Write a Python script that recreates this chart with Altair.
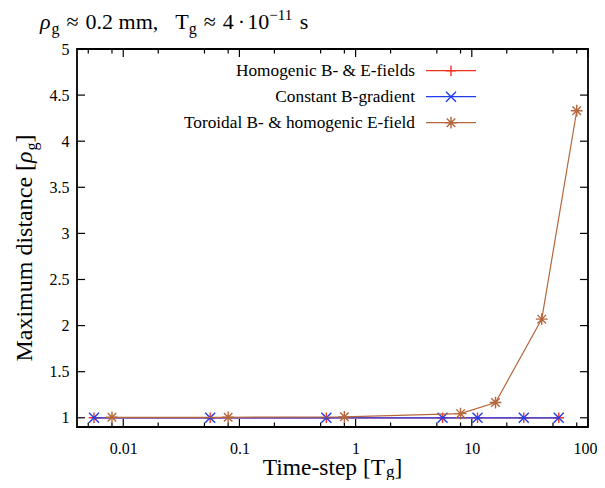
import altair as alt
import pandas as pd

# ---------------- data ----------------
series_names = ["Homogenic B- & E-fields", "Constant B-gradient",
                "Toroidal B- & homogenic E-field"]
series_colors = ["#f5331f", "#1f3cf0", "#b5673c"]

x_homog = [0.0056, 0.056, 0.56, 5.6, 11.2, 28, 56]
y_homog = [1.0, 1.0, 1.0, 1.0, 1.0, 1.0, 1.0]
x_grad = [0.0056, 0.056, 0.56, 5.6, 11.2, 28, 56]
y_grad = [1.0, 1.0, 1.0, 1.0, 1.0, 1.0, 1.0]
x_tor = [0.008, 0.08, 0.8, 8, 16, 40, 80]
y_tor = [1.005, 1.005, 1.01, 1.045, 1.165, 2.07, 4.33]

x_major = [0.01, 0.1, 1, 10, 100]
x_minor = [0.005, 0.008, 0.02, 0.05, 0.08, 0.2, 0.5, 0.8,
           2, 5, 8, 20, 50, 80]
y_major = [1, 1.5, 2, 2.5, 3, 3.5, 4, 4.5, 5]

# ---------------- layout ----------------
W, H = 511, 378
SERIF = "Liberation Serif"
xs = alt.Scale(type="log", domain=[0.004, 100], nice=False)
ys = alt.Scale(domain=[0.9, 5], nice=False, zero=False)

AX = alt.Axis(values=x_major, format="~g", ticks=False, domain=False, grid=False,
              labelFont=SERIF, labelFontSize=16, labelPadding=13, labelColor="black",
              labelOverlap=False, labelFlush=False, title=None,
              labelAlign={"condition": {"test": "datum.value >= 100", "value": "right"},
                          "value": "center"},
              labelOffset={"condition": {"test": "datum.value >= 100", "value": 9},
                           "value": 0})
AY = alt.Axis(values=y_major, format="~g", ticks=False, domain=False, grid=False,
              labelFont=SERIF, labelFontSize=16, labelPadding=8, labelColor="black",
              labelOverlap=False, labelFlush=False, title=None)


def X(field="x"):
    return alt.X(f"{field}:Q", scale=xs, axis=AX)


def Y(field="y"):
    return alt.Y(f"{field}:Q", scale=ys, axis=AY)


one = pd.DataFrame({"k": [0]})

PLUS = "M-1,0L1,0M0,-1L0,1"
CROSS = "M-1,-1L1,1M-1,1L1,-1"
STAR = "M-1,0L1,0M0,-1L0,1M-0.72,-0.72L0.72,0.72M-0.72,0.72L0.72,-0.72"
shapes = [PLUS, CROSS, STAR]
sizes = [110, 100, 140]

WID = {' ': 0.25, '≈': 0.549, '.': 0.25, ',': 0.25, 'm': 0.778, 'T': 0.611,
       'g': 0.5, '·': 0.25, '−': 0.564, 's': 0.389, 'ρ': 0.52, 'i': 0.278,
       'e': 0.444, '-': 0.333, 't': 0.278, 'p': 0.5, '[': 0.333, ']': 0.333,
       'M': 0.889, 'a': 0.444, 'x': 0.5, 'u': 0.5, 'd': 0.5, 'n': 0.5,
       'c': 0.444}


def twidth(txt, size):
    return sum(WID.get(ch, 0.5) for ch in txt) * size


def run_width(segs):
    tot = 0
    for s in segs:
        if isinstance(s, (int, float)):
            tot += s
        else:
            tot += twidth(s[0], s[1])
    return tot


def text_run(segs, x0, y0, angle=0):
    out = []
    cum = 0
    for s in segs:
        if isinstance(s, (int, float)):
            cum += s
            continue
        txt, size, dy, style = s
        kw = dict(text=txt, font=SERIF, fontSize=size, fontStyle=style,
                  align="left", baseline="alphabetic", dx=cum, dy=dy,
                  color="black")
        if angle:
            kw["angle"] = angle
        out.append(alt.Chart(one).mark_text(**kw).encode(
            x=alt.value(x0), y=alt.value(y0)))
        cum += twidth(txt, size)
    return out


layers = []

# ticks (inward, mirrored)
for vals, ln in [(x_major, 8), (x_minor, 4.5)]:
    dft = pd.DataFrame({"x": vals})
    layers.append(alt.Chart(dft).mark_rule(color="black", strokeWidth=1.2).encode(
        x=X(), y=alt.value(H), y2=alt.value(H - ln)))
    layers.append(alt.Chart(dft).mark_rule(color="black", strokeWidth=1.2).encode(
        x=X(), y=alt.value(0), y2=alt.value(ln)))
dfy = pd.DataFrame({"y": y_major})
layers.append(alt.Chart(dfy).mark_rule(color="black", strokeWidth=1.2).encode(
    y=Y(), x=alt.value(0), x2=alt.value(8)))
layers.append(alt.Chart(dfy).mark_rule(color="black", strokeWidth=1.2).encode(
    y=Y(), x=alt.value(W - 8), x2=alt.value(W)))

# data series
series = [(x_homog, y_homog), (x_grad, y_grad), (x_tor, y_tor)]
for i, (xv, yv) in enumerate(series):
    d = pd.DataFrame({"x": xv, "y": yv})
    layers.append(alt.Chart(d).mark_line(color=series_colors[i], strokeWidth=1.2).encode(
        x=X(), y=Y()))
    layers.append(alt.Chart(d).mark_point(shape=shapes[i], size=sizes[i], filled=False,
                                          color=series_colors[i], strokeWidth=1.4, opacity=1).encode(
        x=X(), y=Y()))

# legend
leg_y = [21.7, 47.7, 73.7]
for i, name in enumerate(series_names):
    layers.append(alt.Chart(one).mark_text(text=name, font=SERIF, fontSize=17.3, align="right",
                                           baseline="middle", color="black").encode(
        x=alt.value(338), y=alt.value(leg_y[i])))
    layers.append(alt.Chart(one).mark_rule(color=series_colors[i], strokeWidth=1.2).encode(
        x=alt.value(349), x2=alt.value(399), y=alt.value(leg_y[i])))
    layers.append(alt.Chart(one).mark_point(shape=shapes[i], size=sizes[i], filled=False,
                                            color=series_colors[i], strokeWidth=1.4, opacity=1).encode(
        x=alt.value(374), y=alt.value(leg_y[i])))

# title
title_segs = [("ρ", 22, 0, "italic"), ("g", 16, 5, "normal"), 7, ("≈", 22, 0, "normal"), 7,
              ("0.2 mm,", 22, 0, "normal"), 17, ("T", 22, 0, "normal"), ("g", 16, 5, "normal"), 7,
              ("≈", 22, 0, "normal"), 7, ("4", 22, 0, "normal"), 4, ("·", 22, 0, "normal"), 4,
              ("10", 22, 0, "normal"), ("−11", 15, -9, "normal"), 7, ("s", 22, 0, "normal")]
layers += text_run(title_segs, -37, -20)

# x title
xt_segs = [("Time-step [T", 23.5, 0, "normal"), ("g", 17, 2, "normal"), ("]", 23.5, 0, "normal")]
xw = run_width(xt_segs)
layers += text_run(xt_segs, (W / 2) - xw / 2, 426)

# y title (rotated)
yt_segs = [("Maximum distance [", 24, 0, "normal"), ("ρ", 24, 0, "italic"),
           ("g", 16, 5, "normal"), ("]", 24, 0, "normal")]
yw = run_width(yt_segs)
layers += text_run(yt_segs, -45, 199 + yw / 2, angle=270)

chart = alt.layer(*layers).properties(
    width=W, height=H,
    autosize=alt.AutoSizeParams(type="none"),
    padding={"left": 69, "top": 41, "right": 9, "bottom": 53},
).configure_view(stroke="black", strokeWidth=1.8)

chart.save("out.html", embed_options={"renderer": "svg", "actions": False})
